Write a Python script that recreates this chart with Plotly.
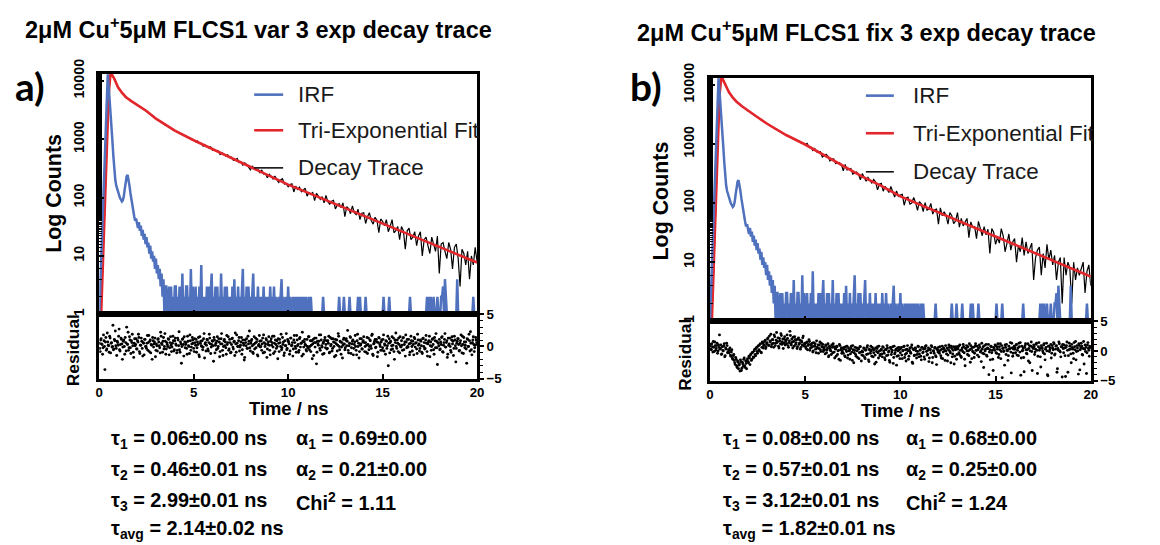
import plotly.graph_objects as go

# ---------------- data ----------------
# Tri-exponential fit curves (time in ns, counts)
FIT_T = [0.1, 0.2, 0.3, 0.4, 0.5, 0.6, 0.7, 0.8, 0.9, 1.0, 1.2, 1.4, 1.7, 2.0, 2.5, 3.0, 3.5, 4.0,
         5, 6, 7, 8, 9, 10, 11, 12, 13, 14, 15, 16, 17, 18, 19, 20]
FIT_A = [1, 8, 75, 700, 6000, 14000, 12500, 10800, 9100, 7700, 6300, 5300, 4500, 3900, 3050, 2250, 1750, 1400,
         960, 677, 477, 336, 237, 167, 123, 90, 67, 49, 36, 26.4, 19.4, 14.3, 10.5, 7.7]
FIT_B = [1, 8, 80, 800, 6500, 14000, 12000, 10000, 8600, 7500, 6100, 5200, 4300, 3650, 2835, 2200, 1765, 1420,
         980, 650, 420, 280, 195, 130, 95, 70, 51, 37.3, 27.2, 19.9, 14.5, 10.6, 7.8, 5.7]

# Measured decay traces, one value every 0.1 ns from 0 to 20 ns
TRACE_A = [
    1, 1, 9, 70, 720, 6100, 13900, 12400, 10900, 9100,
    7700, 6900, 6300, 5800, 5350, 5050, 4750, 4520, 4300, 4100,
    3880, 3745, 3540, 3400, 3210, 3075, 2885, 2770, 2595, 2455,
    2275, 2150, 2080, 1945, 1865, 1745, 1695, 1598, 1545, 1458,
    1412, 1338, 1318, 1236, 1218, 1146, 1129, 1061, 1049, 981,
    972, 900, 931, 856, 838, 763, 800, 766, 710, 743,
    648, 659, 626, 632, 545, 583, 549, 514, 541, 485,
    492, 435, 443, 469, 399, 407, 359, 393, 369, 339,
    299, 345, 318, 298, 306, 265, 298, 253, 256, 219,
    251, 234, 208, 234, 203, 181, 200, 210, 170, 173,
    153, 168, 172, 125, 157, 138, 151, 126, 134, 145,
    106, 121, 115, 122, 89, 118, 106, 93, 104, 81,
    109, 85, 77, 87, 90, 64, 75, 79, 67, 81,
    47, 70, 65, 53, 72, 55, 51, 63, 42, 54,
    55, 36, 47, 55, 40, 35, 46, 41, 25, 43,
    39, 33, 42, 26, 32, 42, 25, 27, 32, 19,
    32, 27, 13, 27, 30, 19, 21, 26, 15, 22,
    26, 10, 19, 21, 15, 11, 21, 16, 12, 22,
    5, 16, 17, 12, 9, 17, 13, 6, 14, 16,
    9, 3, 13, 11, 7, 12, 4, 10, 7, 14,
    8,
]
TRACE_B = [
    1, 1, 8, 85, 790, 6600, 13800, 12100, 9950, 8650,
    7450, 6730, 6080, 5640, 5170, 4930, 4570, 4330, 4050, 3890,
    3620, 3490, 3280, 3160, 2950, 2860, 2670, 2580, 2410, 2330,
    2180, 2120, 1990, 1945, 1820, 1785, 1665, 1640, 1525, 1498,
    1400, 1385, 1295, 1290, 1200, 1198, 1115, 1112, 1030, 1028,
    980, 1024, 890, 889, 775, 838, 737, 749, 740, 603,
    630, 671, 617, 517, 554, 561, 467, 472, 482, 452,
    351, 450, 364, 375, 386, 309, 317, 335, 309, 248,
    315, 279, 235, 272, 240, 218, 252, 228, 167, 208,
    215, 159, 192, 168, 151, 191, 153, 127, 161, 130,
    137, 141, 92, 121, 126, 96, 100, 124, 102, 75,
    106, 97, 72, 102, 76, 79, 99, 65, 77, 79,
    44, 83, 61, 71, 62, 44, 69, 61, 45, 50,
    69, 39, 55, 41, 48, 55, 26, 48, 39, 40,
    25, 49, 37, 28, 40, 29, 36, 14, 37, 32,
    20, 26, 21, 37, 28, 15, 21, 30, 16, 22,
    25, 10, 19, 15, 26, 13, 22, 14, 17, 21,
    5, 12, 16, 18, 6, 14, 8, 20, 11, 16,
    9, 13, 5, 10, 12, 2, 12, 6, 10, 8,
    2, 10, 5, 8, 6, 8, 10, 3, 7, 9,
    4,
]

# Instrument response function, one value every 0.05 ns from 0 to 20 ns
IRF_COUNTS = [
    1, 3, 10, 30, 100, 300, 1000, 3200, 10000, 13000, 8000, 5000, 2800, 1600, 900, 500, 280, 200, 160, 140,
    125, 110, 98, 92, 86, 90, 105, 140, 190, 230, 245, 210, 160, 120, 95, 70, 52, 48, 40, 44,
    36, 30, 38, 27, 33, 22, 28, 19, 24, 16, 21, 14, 17, 11, 15, 9, 12, 8, 10, 6,
    9, 5, 7, 4, 6, 3, 5, 2, 4, 1, 3,
    3, 1, 2, 3, 1, 3, 1, 2, 1, 3, 3, 1, 2, 1, 3, 2, 1, 5, 1, 2,
    1, 3, 3, 1, 2, 1, 6, 1, 3, 1, 2, 3, 1, 2, 1, 3, 1, 7, 1, 2,
    1, 2, 1, 3, 1, 3, 1, 2, 5, 1, 2, 1, 3, 1, 3, 1, 2, 1, 5, 1,
    2, 1, 3, 1, 3, 1, 2, 1, 2, 1, 3, 1, 4, 1, 2, 1, 3, 1, 2, 1,
    2, 6, 1, 2, 1, 3, 1, 3, 1, 2, 1, 2, 5, 1, 2, 1, 1, 3, 1, 2,
    1, 2, 1, 3, 1, 2, 1, 2, 1, 1, 3, 1, 2, 1, 3, 1, 2, 1, 1, 2,
    1, 2, 4, 1, 2, 1, 1, 2, 1, 3, 1, 2, 1, 1, 2, 1, 2, 1, 2, 1,
    2, 1, 2, 1, 2, 1, 2, 1, 2, 1, 1, 2, 1, 2, 1, 1, 1, 1, 1, 1,
    1, 1, 1, 1, 1, 1, 2, 1, 1, 1, 1, 1, 1, 1, 1, 1, 1, 1, 1, 1,
    1, 1, 1, 2, 1, 1, 1, 1, 2, 1, 1, 1, 1, 1, 2, 1, 1, 1, 1, 1,
    1, 1, 1, 2, 1, 2, 1, 1, 1, 1, 1, 2, 1, 1, 1, 1, 1, 1, 1, 1,
    1, 1, 1, 1, 1, 1, 1, 1, 1, 1, 2, 1, 1, 1, 1, 1, 2, 1, 1, 1,
    1, 1, 1, 1, 1, 1, 1, 1, 1, 1, 1, 1, 1, 1, 1, 1, 1, 1, 2, 1,
    1, 1, 1, 1, 1, 1, 1, 1, 1, 1, 1, 1, 1, 1, 1, 1, 2, 1, 2, 1,
    2, 1, 1, 2, 1, 1, 1, 2, 1, 1, 1, 2, 2, 3, 1, 4, 2, 1, 1, 1,
    1, 1, 1, 1, 1, 1, 1, 1, 4, 1, 1, 1, 1, 1, 1, 1, 1, 1, 1, 1,
    1, 1, 1, 1, 1, 2, 1, 1, 1, 1,
]

# Weighted residuals in tenths, on channels at 0, 0.05, 0.10 ... 20 ns
RES_A_TENTHS = [
    5, -8, 12, 3, -2, 9, -36, 14, -4, 7, 1, 16, -10, 6, 0, -5, 11, 24, -3, 8,
    2, 27, -7, 13, 4, -1, 10, -12, 6, 30, 3, -6, 15, -2, 9, 19, -9, 5, 1, 12,
    -4, 7, 14, -11, 2, 8, -15, 5, 11, 0, -3, 17, 6, -8, 10, 3, -20, 9, 4, 13,
    -6, 1, 11, 7, -2, 22, 5, -9, 14, 0, 8, -4, 3, 12, -13, 6, 2, -1, 16, -7,
    9, 4, -10, 13, 1, -5, 7, -26, 11, 3, 15, -2, 6, -12, 8, 0, 18, -6, 4, 10,
    -3, 12, 2, -9, 7, 14, -16, 5, 1, 9, -1, 20, 4, -7, 11, -4, 6, 13, -11, 3,
    8, -23, 10, 2, -5, 15, 0, 7, -8, 12, 4, -14, 9, 1, -2, 17, 6, -6, 11, -10,
    3, 13, -4, 8, 21, -9, 5, 0, 14, -1, 7, -12, 10, 2, -17, 6, 12, -3, 4, 24,
    -7, 9, 1, -11, 15, 5, -2, 11, -15, 3, 8, 0, -6, 13, 18, -9, 4, 10, -4, 7,
    2, -13, 12, 6, -1, 16, -8, 3, 9, -19, 5, 11, 0, -5, 14, 7, -10, 1, 20, -3,
    8, 4, -7, 13, 2, -15, 10, 6, -3, 17, 1, -9, 12, -1, 5, 22, -12, 7, 3, -5,
    11, -2, 15, 0, -8, 9, 4, -14, 13, 6, -27, 8, 2, 18, -6, 10, -1, 5, -11, 14,
    3, -4, 9, 16, -9, 1, 12, -3, 7, -16, 11, 4, -7, 20, 0, 8, -12, 6, 2, 13,
    -5, 10, 1, 25, -10, 5, 14, -2, 8, -13, 3, 17, -6, 9, 0, -18, 12, 4, -4, 7,
    15, -8, 6, 2, -11, 13, 0, 9, -3, 19, -14, 5, 11, -1, 7, -9, 14, 3, -6, 10,
    -2, 18, 4, -12, 8, 1, -30, 12, 6, -5, 15, 2, -8, 10, 21, -3, 5, 13, -10, 0,
    9, -6, 14, 3, -15, 7, 11, -1, 4, -9, 16, 0, 8, -13, 12, 5, -4, 19, 2, -7,
    10, 1, -11, 13, 6, -3, 17, -8, 4, 9, -16, 7, 0, 12, -5, 14, -2, 8, -28, 5,
    11, -4, 3, 15, -9, 6, 20, -1, 9, -12, 2, 13, -6, 10, 4, -14, 16, 1, -3, 8,
    12, -7, 5, 18, -10, 3, 14, -2, 7, -26, 11, 0, 9, 23, -5, 6, 15, -8, 2, 10,
    4,
]
# ... and on the channels in between, at 0.025, 0.075 ... 19.975 ns
RES_A_MID_TENTHS = [
    -3, 10, 4, -12, 18, 0, 7, -6, 21, 2, -9, 13, 5, -1, 33, -4, 9, 1, -14, 6,
    16, -5, 3, 11, -20, 8, 0, 14, -7, 4, 22, -2, 10, -11, 6, 1, -17, 12, 3, -4,
    9, 19, -8, 2, 13, -3, 6, -13, 11, 0, 5, -6, 17, 8, -10, 2, 14, -1, 7, -16,
    4, -7, 12, 1, -10, 16, 3, 8, -4, 20, -12, 6, 0, 11, -2, 15, -8, 5, 9, -5,
    13, 2, -6, 10, 23, -9, 4, 0, 12, -15, 7, 3, -3, 16, 1, -11, 9, -1, 14, 5,
    -8, 6, 11, -2, 3, -13, 15, 8, 0, -5, 12, -18, 6, 2, 10, -7, 19, 4, -1, 9,
    1, 14, -10, 5, 8, -3, 12, -16, 4, 20, -6, 0, 11, 7, -12, 3, 15, -4, 6, -9,
    12, -1, 7, -14, 4, 18, 0, 9, -7, 2, 14, -5, 5, -21, 10, 1, -3, 16, 8, -2,
    5, 11, -9, 3, -4, 13, 7, -13, 1, 17, -1, 9, 4, -10, 6, 0, 12, -17, 3, 15,
    -6, 8, 2, 16, -11, 5, 10, -3, 0, 12, -8, 6, 19, -2, 3, -14, 9, 1, -5, 11,
    7, -12, 13, 1, 6, -4, 17, 0, -9, 10, 3, -6, 14, 5, -15, 8, -1, 11, 2, -7,
    0, 15, -5, 9, 2, -19, 11, 6, -1, 13, -9, 4, 8, -3, 18, 1, -12, 7, 10, -2,
    9, -3, 5, -10, 14, 3, -7, 12, 0, 6, -14, 10, 2, 16, -5, 7, -1, -18, 11, 4,
    -2, 12, 8, -6, 1, 15, -11, 4, 10, -3, 7, 0, -13, 19, 5, -8, 2, 12, -4, 9,
    6, 0, -9, 14, 3, -5, 10, 1, 17, -12, 4, 8, -2, 11, -16, 6, 13, 0, 7, -6,
    11, -7, 2, 9, -3, 16, 5, -10, 8, 1, -4, 13, -20, 6, 0, 10, -8, 3, 15, -1,
    2, 13, -5, 7, 18, -2, 0, 11, -13, 5, 9, -7, 3, 14, -1, 6, -11, 10, 4, -3,
    8, -9, 12, 0, -4, 10, 5, -15, 7, 16, 1, -6, 11, 3, -12, 9, 20, -2, 6, 1,
    -5, 7, 14, -8, 2, 11, -1, 6, -17, 13, 4, 0, -9, 15, 8, -3, 10, -24, 5, 12,
    3, -6, 9, 1, 16, -11, 7, 2, -4, 12, 0, 19, -7, 5, -13, 10, 3, -2, 14, 6,
]
RES_B_TENTHS = [
    8, 3, 12, -2, 6, 15, 1, 9, -4, 10, 27, 4, -6, 7, 0, 12, -8, 3, 9, -2,
    -3, 5, -9, 2, -14, -6, -20, -11, -25, -17, -30, -22, -15, -33, -19, -26, -12, -28, -21, -16,
    -18, -9, -23, -5, -14, -2, -11, 3, -8, 6, -4, 9, 0, 12, -3, 15, 5, 10, 18, 7,
    14, 22, 9, 17, 28, 11, 19, 6, 24, 13, 31, 16, 8, 21, 12, 26, 15, 4, 20, 10,
    18, 27, 9, 14, 33, 12, 20, 5, 16, 24, 11, 19, 7, 22, 13, 3, 17, 10, 25, 8,
    12, 4, 15, 9, 19, 1, 11, 6, -2, 14, 8, 3, 17, 5, -4, 10, 2, 13, 7, -1,
    6, -5, 9, 2, 12, -8, 4, 0, 10, -3, 7, -12, 3, 8, -6, 1, 11, -16, 5, -1,
    -4, 6, -10, 2, 8, -7, 0, -14, 4, -2, 9, -20, 1, -6, 5, -11, 3, -3, 7, -17,
    0, -8, 4, -13, 2, 6, -5, -18, 1, 8, -9, 3, -3, -22, 5, -1, 7, -12, 0, -6,
    3, -10, 6, -4, -15, 2, 9, -7, 0, -19, 4, -2, 7, -11, -5, 1, -24, 5, -8, 2,
    -3, 6, -13, 1, 8, -6, -17, 3, 0, -9, 5, -4, 10, -21, 2, -7, 4, -12, -1, 7,
    -5, 2, -15, 6, -2, -10, 4, 9, -7, 1, -18, 3, -3, 7, -11, 0, 5, -8, -23, 2,
    6, -4, 1, -12, 8, -2, 3, -16, 0, 5, -7, 10, -1, -20, 4, -5, 7, -9, 2, -14,
    3, 8, -6, 1, -11, 5, 11, -3, -25, 4, 0, 7, -8, 2, 9, -13, -1, 6, -4, 12,
    1, -7, 5, 10, -2, -18, 3, 7, -5, 0, 11, -9, 4, -40, 2, 8, -3, -14, 6, 1,
    9, -4, 3, -11, 7, 12, -1, -45, 5, 0, 10, -6, 2, -16, 8, 4, -2, 13, -9, 3,
    6, -3, 11, 1, -8, 7, 14, -12, 0, 5, -35, 9, 2, -5, 12, 4, -20, 8, -1, 6,
    10, -6, 3, 13, -38, 7, 1, -10, 9, 4, -3, 12, -15, 6, 0, -42, 8, 2, 11, -4,
    5, 14, -7, 3, 9, -30, 1, 12, -2, 7, -44, 4, 10, -8, 6, 15, -36, 2, 8, -5,
    11, 3, -13, 7, 16, -1, 5, -39, 9, 2, 13, -6, 4, -22, 10, 6, -3, 14, 1, 8,
    5,
]
RES_B_MID_TENTHS = [
    11, 2, 7, 16, -1, 9, 4, 13, 0, 6, 3, 10, -5, 1, 8, -10, 5, 13, -3, 2,
    1, -7, -2, -12, -8, -16, -23, -14, -28, -19, -24, -34, -18, -29, -22, -14, -25, -17, -30, -13,
    -20, -12, -7, -16, -3, -10, 0, -6, 4, -1, 8, 2, 11, -2, 6, 13, 9, 16, 4, 12,
    20, 10, 25, 15, 7, 19, 13, 27, 9, 18, 14, 22, 5, 17, 29, 11, 20, 13, 24, 16,
    12, 21, 6, 17, 26, 10, 15, 23, 8, 19, 14, 4, 20, 11, 18, 6, 15, 22, 9, 13,
    7, 14, 2, 11, 16, 5, 9, 13, 0, 8, 12, -3, 6, 10, 4, 15, -1, 7, 11, 3,
    2, 10, -3, 5, -10, 8, 1, -6, 6, 12, -2, 4, -9, 7, 0, -14, 9, 2, -4, 5,
    3, -8, 7, -1, -12, 5, 1, -5, 8, -16, 2, -3, 6, -9, 0, 4, -13, 7, -2, -7,
    -2, 5, -11, 1, -6, 9, -15, 3, -4, 0, 6, -10, 2, -7, -19, 4, -3, 8, -8, 1,
    -5, 7, 0, -12, 3, -8, 5, -2, -16, 6, -6, 1, -21, 8, -3, 3, -9, 0, 6, -13,
    4, -7, 0, 7, -11, 2, -4, 9, -14, 1, -2, 6, -19, 3, -8, 5, 0, -6, 8, -10,
    1, -9, 6, -3, 3, -14, 8, -1, -6, 5, -12, 2, 9, -20, 0, -4, 6, -10, 3, -2,
    -1, 7, -8, 3, -13, 5, 0, 9, -5, -17, 2, 6, -3, 8, -10, 1, -22, 4, 7, -6,
    5, -3, 10, -9, 2, -1, 7, -14, 4, 9, -6, 0, 12, -19, 3, 6, -2, -11, 8, 1,
    8, 2, -10, 6, 0, 13, -4, -28, 9, 3, -7, 5, 11, -2, -15, 7, 1, -33, 4, 10,
    -3, 7, 12, -6, 2, -13, 9, 4, -1, -24, 6, 11, 0, -8, 3, 14, -37, 5, -4, 8,
    3, 10, -7, 5, 13, -2, -41, 8, 1, -11, 6, 12, -4, 2, -17, 9, 0, 15, -33, 4,
    7, -2, 11, 1, -9, 14, 4, -27, 6, 0, 10, -5, 3, 13, -40, 8, -1, 5, -12, 9,
    2, 12, -5, 8, -36, 4, 15, 0, -10, 7, 11, -3, 5, -43, 9, 1, -8, 13, 3, -20,
    6, -4, 14, 2, -15, 9, 0, 12, -32, 5, 8, -7, 16, 3, -1, -38, 10, 4, -9, 7,
]

TITLES = ["2μM Cu<sup>+</sup>5μM FLCS1 var 3 exp decay trace",
          "2μM Cu<sup>+</sup>5μM FLCS1 fix 3 exp decay trace"]
PANEL_LABELS = ["a)", "b)"]
PARAMS_LEFT = [
    ["τ<sub>1</sub> = 0.06±0.00 ns", "τ<sub>2</sub> = 0.46±0.01 ns",
     "τ<sub>3</sub> = 2.99±0.01 ns", "τ<sub>avg</sub> = 2.14±0.02 ns"],
    ["τ<sub>1</sub> = 0.08±0.00 ns", "τ<sub>2</sub> = 0.57±0.01 ns",
     "τ<sub>3</sub> = 3.12±0.01 ns", "τ<sub>avg</sub> = 1.82±0.01 ns"],
]
PARAMS_RIGHT = [
    ["α<sub>1</sub> = 0.69±0.00", "α<sub>2</sub> = 0.21±0.00", "Chi<sup>2</sup> = 1.11"],
    ["α<sub>1</sub> = 0.68±0.00", "α<sub>2</sub> = 0.25±0.00", "Chi<sup>2</sup> = 1.24"],
]
LEGEND_NAMES = ["IRF", "Tri-Exponential Fit", "Decay Trace"]
Y_TICKS = [1, 10, 100, 1000, 10000]
X_TICKS = [0, 5, 10, 15, 20]

# ---------------- styling ----------------
W, H = 1160, 545
FONT = "Liberation Sans, Arial, sans-serif"
BLUE = "#5071bd"
RED = "#e3262b"

# layout is designed in page pixels; the page shows the figure slightly inset
OX, SX = 2.7, 0.991
OY, SY = 11.5, 0.968
FS = 1.02  # font scale


def px(x):
    return ((x - OX) / SX) / W


def py(y):
    return 1 - ((y - OY) / SY) / H


def fs(size):
    return round(size * FS, 1)


# pixel geometry of each panel: left, right, top, split, bottom
GEOM = [
    dict(l=98, r=476, t=71, m=314, b=379),
    dict(l=709, r=1090, t=75, m=321, b=381),
]

t_trace = [round(0.1 * i, 2) for i in range(len(TRACE_A))]
t_irf = [round(0.05 * i, 2) for i in range(len(IRF_COUNTS))]
t_res = [round(0.05 * i, 3) for i in range(len(RES_A_TENTHS))]
t_res_mid = [round(0.025 + 0.05 * i, 3) for i in range(len(RES_A_MID_TENTHS))]

fig = go.Figure()
traces = [TRACE_A, TRACE_B]
fits = [FIT_A, FIT_B]
resids = [RES_A_TENTHS + RES_A_MID_TENTHS, RES_B_TENTHS + RES_B_MID_TENTHS]

frame = dict(showline=True, linecolor="black", linewidth=2.5, mirror=True,
             zeroline=False, showgrid=False)
tickfont = dict(family=FONT, size=fs(13), color="black", weight="bold")
ytickfont = dict(family=FONT, size=fs(14), color="black", weight="bold")

layout_axes = {}
annotations = []
shapes = []

for k in range(2):
    g = GEOM[k]
    xa_top = "x" if k == 0 else "x3"
    ya_top = "y" if k == 0 else "y3"
    xa_res = "x2" if k == 0 else "x4"
    ya_res = "y2" if k == 0 else "y4"

    fig.add_trace(go.Scatter(x=t_trace, y=traces[k], mode="lines", name=LEGEND_NAMES[2],
                             line=dict(color="black", width=1.2),
                             xaxis=xa_top, yaxis=ya_top, showlegend=False))
    fig.add_trace(go.Scatter(x=FIT_T, y=fits[k], mode="lines", name=LEGEND_NAMES[1],
                             line=dict(color=RED, width=2.6),
                             xaxis=xa_top, yaxis=ya_top, showlegend=False))
    fig.add_trace(go.Scatter(x=t_irf, y=IRF_COUNTS, mode="lines", name=LEGEND_NAMES[0],
                             line=dict(color=BLUE, width=2.5),
                             xaxis=xa_top, yaxis=ya_top, showlegend=False))
    fig.add_trace(go.Scatter(x=t_res + t_res_mid, y=[r / 10 for r in resids[k]], mode="markers",
                             marker=dict(color="black", size=2.9),
                             xaxis=xa_res, yaxis=ya_res, showlegend=False))

    xdom = [px(g["l"]), px(g["r"])]
    n_top = "" if k == 0 else "3"
    n_res = "2" if k == 0 else "4"
    layout_axes["xaxis" + n_top] = dict(
        domain=xdom, range=[0, 20], anchor=ya_top, tickvals=X_TICKS, ticks="inside",
        ticklen=5, tickwidth=2, tickcolor="black", showticklabels=False, **frame)
    layout_axes["yaxis" + n_top] = dict(
        domain=[py(g["m"]), py(g["t"])], type="log", range=[0, 4.12], anchor=xa_top,
        tickvals=Y_TICKS, ticktext=[str(v) for v in Y_TICKS], ticks="inside",
        ticklen=5, tickwidth=1.5, tickcolor="black", tickangle=-90, tickfont=ytickfont,
        ticklabelstandoff=7,
        minor=dict(ticks="inside", ticklen=3, tickwidth=1, tickcolor="black", showgrid=False),
        **frame)
    layout_axes["xaxis" + n_res] = dict(
        domain=xdom, range=[0, 20], anchor=ya_res, tickvals=X_TICKS, ticks="inside",
        ticklen=5, tickwidth=2, tickcolor="black", tickfont=tickfont, **frame)
    layout_axes["yaxis" + n_res] = dict(
        domain=[py(g["b"]), py(g["m"])], range=[-5, 5], anchor=xa_res, side="right",
        tickvals=[-5, 0, 5], ticks="outside", ticklen=4, tickwidth=1.5, tickcolor="black",
        tickfont=tickfont,
        minor=dict(ticks="outside", dtick=1, ticklen=3, tickwidth=1, tickcolor="black"),
        **frame)

    # titles and panel letters
    title_x = [257, 866][k]
    title_y = [25, 28][k]
    annotations.append(dict(text="<b>" + TITLES[k] + "</b>", x=px(title_x), y=py(title_y),
                            xref="paper", yref="paper", xanchor="center", yanchor="middle",
                            showarrow=False, font=dict(family=FONT, size=fs(23), color="black")))
    annotations.append(dict(text="<b>" + PANEL_LABELS[k] + "</b>", x=px([29, 645][k]), y=py(83),
                            xref="paper", yref="paper", xanchor="center", yanchor="middle",
                            showarrow=False, font=dict(family="Lato, sans-serif", size=fs(38), color="black")))

    # axis titles
    annotations.append(dict(text="<b>Log Counts</b>", x=px([52, 660][k]), y=py([192, 199][k]),
                            xref="paper", yref="paper", textangle=-90, showarrow=False,
                            xanchor="center", yanchor="middle",
                            font=dict(family=FONT, size=fs(21), color="black")))
    annotations.append(dict(text="<b>Residual</b>", x=px([72, 684][k]), y=py([350, 355][k]),
                            xref="paper", yref="paper", textangle=-90, showarrow=False,
                            xanchor="center", yanchor="middle",
                            font=dict(family=FONT, size=fs(17), color="black")))
    annotations.append(dict(text="<b>Time / ns</b>", x=px([287, 900][k]), y=py([409, 411][k]),
                            xref="paper", yref="paper", showarrow=False,
                            xanchor="center", yanchor="middle",
                            font=dict(family=FONT, size=fs(18), color="black")))

    # in-plot legend
    leg_line = [(253, 282), (865, 893)][k]
    leg_text_x = [295, 910][k]
    leg_rows = [[92, 128, 166], [93, 131, 170]][k]
    for name, color, width, yy in zip(LEGEND_NAMES, [BLUE, RED, "black"], [2.6, 2.6, 1.5], leg_rows):
        shapes.append(dict(type="line", xref="paper", yref="paper",
                           x0=px(leg_line[0]), x1=px(leg_line[1]), y0=py(yy), y1=py(yy),
                           line=dict(color=color, width=width)))
        annotations.append(dict(text=name, x=px(leg_text_x), y=py(yy), xref="paper", yref="paper",
                                xanchor="left", yanchor="middle", showarrow=False,
                                font=dict(family=FONT, size=fs(22), color="#1a1a1a")))

    # fit parameters below the panel
    left_x = [108, 720][k]
    right_x = [293, 903][k]
    rows_y = [441, 472, 503, 531]
    for txt, yy in zip(PARAMS_LEFT[k], rows_y):
        annotations.append(dict(text="<b>" + txt + "</b>", x=px(left_x), y=py(yy),
                                xref="paper", yref="paper", xanchor="left", yanchor="middle",
                                showarrow=False, font=dict(family=FONT, size=fs(19.5), color="black")))
    for txt, yy in zip(PARAMS_RIGHT[k], rows_y):
        annotations.append(dict(text="<b>" + txt + "</b>", x=px(right_x), y=py(yy),
                                xref="paper", yref="paper", xanchor="left", yanchor="middle",
                                showarrow=False, font=dict(family=FONT, size=fs(19.5), color="black")))

fig.update_layout(
    width=W, height=H, margin=dict(l=0, r=0, t=0, b=0, pad=0), autosize=False,
    paper_bgcolor="white", plot_bgcolor="white",
    showlegend=False, annotations=annotations, shapes=shapes,
    **layout_axes,
)

fig.write_html("out.html")
